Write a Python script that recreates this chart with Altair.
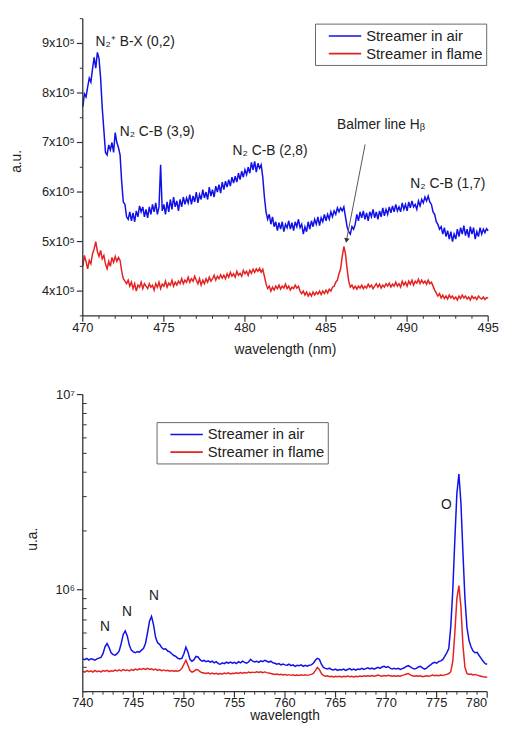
import altair as alt
import pandas as pd

BLUE = "#1010e8"
RED = "#e42222"
FONT = "Liberation Sans"
SERIES = ["Streamer in air", "Streamer in flame"]

# ---------------- top panel: 470-495 nm, step 0.1 nm, intensity in units of 1e5 ----------------
top_start, top_step, top_n = 470.0, 0.1, 251
air_top = [
    7.72, 7.98, 7.92, 8.12, 8.30, 8.22, 8.48, 8.72, 8.50, 8.82,
    8.70, 8.30, 7.70, 7.25, 6.80, 6.75, 6.95, 6.85, 7.00, 6.80,
    7.20, 7.00, 6.90, 6.75, 6.20, 5.80, 5.75, 5.50, 5.45, 5.60,
    5.42, 5.58, 5.40, 5.62, 5.50, 5.72, 5.60, 5.70, 5.50, 5.65,
    5.48, 5.70, 5.55, 5.75, 5.60, 5.78, 5.55, 5.70, 6.55, 5.62,
    5.75, 5.55, 5.80, 5.60, 5.85, 5.65, 5.90, 5.70, 5.82, 5.62,
    5.85, 5.70, 5.90, 5.75, 5.88, 5.78, 5.95, 5.75, 5.92, 5.80,
    6.00, 5.78, 5.95, 5.85, 6.05, 5.88, 6.00, 5.85, 6.10, 5.92,
    6.05, 5.90, 6.12, 6.00, 6.15, 5.98, 6.20, 6.05, 6.22, 6.10,
    6.25, 6.12, 6.30, 6.18, 6.32, 6.20, 6.38, 6.25, 6.42, 6.30,
    6.45, 6.35, 6.50, 6.38, 6.60, 6.45, 6.62, 6.40, 6.58, 6.48,
    6.55, 6.30, 5.90, 5.60, 5.45, 5.55, 5.35, 5.50, 5.30, 5.40,
    5.22, 5.38, 5.25, 5.40, 5.20, 5.35, 5.28, 5.42, 5.25, 5.38,
    5.22, 5.40, 5.30, 5.45, 5.28, 5.35, 5.15, 5.30, 5.20, 5.40,
    5.25, 5.42, 5.30, 5.45, 5.35, 5.50, 5.32, 5.48, 5.40, 5.55,
    5.42, 5.55, 5.45, 5.60, 5.50, 5.62, 5.55, 5.68, 5.60, 5.68,
    5.62, 5.70, 5.50, 5.30, 5.20, 5.15, 5.30, 5.25, 5.35, 5.55,
    5.42, 5.60, 5.48, 5.62, 5.45, 5.58, 5.42, 5.60, 5.50, 5.65,
    5.48, 5.60, 5.45, 5.62, 5.50, 5.68, 5.52, 5.65, 5.55, 5.70,
    5.58, 5.72, 5.60, 5.75, 5.62, 5.70, 5.60, 5.78, 5.65, 5.75,
    5.62, 5.80, 5.68, 5.82, 5.70, 5.75, 5.65, 5.82, 5.72, 5.85,
    5.78, 5.90, 5.82, 5.92, 5.80, 5.75, 5.60, 5.55, 5.40, 5.35,
    5.25, 5.30, 5.15, 5.28, 5.10, 5.22, 5.05, 5.20, 5.00, 5.15,
    5.05, 5.25, 5.10, 5.28, 5.15, 5.32, 5.12, 5.25, 5.08, 5.30,
    5.15, 5.28, 5.05, 5.20, 5.10, 5.28, 5.15, 5.25, 5.18, 5.26,
    5.22,
]
flame_top = [
    4.50, 4.72, 4.60, 4.45, 4.62, 4.55, 4.75, 4.85, 5.00, 4.80,
    4.70, 4.82, 4.65, 4.72, 4.55, 4.45, 4.60, 4.50, 4.68, 4.58,
    4.70, 4.60, 4.68, 4.62, 4.40, 4.25, 4.20, 4.15, 4.22, 4.10,
    4.18, 4.05, 4.15, 4.00, 4.12, 4.08, 4.18, 4.05, 4.15, 4.10,
    4.05, 4.15, 4.08, 4.12, 4.02, 4.15, 4.08, 4.18, 4.05, 4.14,
    4.10, 4.20, 4.08, 4.16, 4.12, 4.22, 4.10, 4.18, 4.12, 4.20,
    4.15, 4.25, 4.15, 4.22, 4.18, 4.28, 4.18, 4.25, 4.20, 4.30,
    4.22, 4.15, 4.25, 4.12, 4.22, 4.15, 4.25, 4.18, 4.28, 4.20,
    4.25, 4.32, 4.22, 4.30, 4.25, 4.33, 4.26, 4.32, 4.25, 4.35,
    4.28, 4.38, 4.30, 4.35, 4.28, 4.40, 4.32, 4.36, 4.30, 4.42,
    4.35, 4.40, 4.32, 4.42, 4.36, 4.44, 4.38, 4.45, 4.40, 4.46,
    4.38, 4.44, 4.30, 4.15, 4.05, 4.10, 4.00, 4.08, 4.02, 4.10,
    4.05, 4.12, 4.04, 4.10, 4.06, 4.14, 4.05, 4.10, 4.02, 4.08,
    4.05, 4.12, 4.06, 4.10, 4.00, 3.95, 4.00, 3.92, 3.98, 3.90,
    3.96, 3.90, 3.98, 3.92, 3.98, 3.94, 4.00, 3.93, 4.00, 3.95,
    4.02, 3.96, 4.04, 4.00, 4.08, 4.10, 4.18, 4.22, 4.35, 4.45,
    4.70, 4.90, 4.75, 4.45, 4.20, 4.08, 4.12, 4.05, 4.10, 4.04,
    4.10, 4.06, 4.12, 4.05, 4.10, 4.06, 4.14, 4.08, 4.12, 4.05,
    4.10, 4.15, 4.08, 4.14, 4.06, 4.12, 4.08, 4.15, 4.10, 4.16,
    4.08, 4.14, 4.10, 4.18, 4.10, 4.15, 4.08, 4.20, 4.12, 4.18,
    4.10, 4.20, 4.14, 4.22, 4.12, 4.20, 4.16, 4.24, 4.15, 4.22,
    4.16, 4.20, 4.14, 4.22, 4.15, 4.18, 4.10, 4.02, 3.96, 3.90,
    3.95, 3.86, 3.92, 3.85, 3.90, 3.84, 3.92, 3.86, 3.90, 3.84,
    3.88, 3.82, 3.90, 3.85, 3.92, 3.86, 3.90, 3.84, 3.88, 3.82,
    3.90, 3.85, 3.88, 3.83, 3.90, 3.86, 3.84, 3.88, 3.83, 3.87,
    3.86,
]

# ---------------- bottom panel: 740-780 nm, step 0.2 nm, intensity in units of 1e5 ----------------
bot_start, bot_step, bot_n = 740.0, 0.2, 201
air_bot = [
    4.42, 4.38, 4.45, 4.36, 4.43,  4.40, 4.35, 4.42, 4.46, 4.50,
    4.70, 5.10, 5.30, 5.05, 4.75,  4.65, 4.62, 4.70, 4.85, 5.30,
    5.90, 6.15, 5.80, 5.20, 4.90,  4.80, 4.75, 4.82, 4.78, 4.90,
    5.00, 5.30, 6.00, 6.90, 7.30,  6.60, 5.70, 5.35, 5.25, 5.05,
    4.95, 4.98, 4.85, 4.80, 4.70,  4.60, 4.55, 4.45, 4.42, 4.45,
    4.70, 5.08, 4.80, 4.40, 4.30,  4.38, 4.55, 4.52, 4.38, 4.30,
    4.34, 4.28, 4.32, 4.25, 4.30,  4.22, 4.28, 4.18, 4.15, 4.22,
    4.18, 4.25, 4.20, 4.26, 4.20,  4.24, 4.18, 4.28, 4.22, 4.30,
    4.24, 4.20, 4.26, 4.40, 4.30,  4.26, 4.30, 4.24, 4.32, 4.28,
    4.35, 4.30, 4.25, 4.30, 4.22,  4.20, 4.15, 4.18, 4.12, 4.16,
    4.12, 4.10, 4.15, 4.08, 4.12,  4.05, 4.10, 4.08, 4.12, 4.05,
    4.10, 4.06, 4.10, 4.12, 4.20,  4.35, 4.45, 4.40, 4.15, 4.00,
    3.95, 3.92, 3.96, 3.90, 3.88,  3.92, 3.86, 3.90, 3.88, 3.92,
    3.86, 3.90, 3.94, 3.88, 3.92,  3.87, 3.92, 3.90, 3.95, 3.90,
    3.94, 3.98, 3.93, 3.97, 3.92,  3.96, 4.00, 3.95, 4.02, 4.05,
    4.00, 4.04, 3.96, 3.92, 3.96,  3.92, 3.95, 3.90, 3.94, 3.98,
    4.05, 4.08, 4.02, 3.96, 3.92,  3.95, 4.02, 4.05, 3.98, 3.92,
    3.96, 4.05, 4.12, 4.20, 4.24,  4.20, 4.28, 4.32, 4.38, 4.55,
    4.75, 5.00, 6.50, 10.0, 18.0,  31.0, 39.2, 28.0, 15.5, 9.00,
    6.40, 5.50, 5.10, 4.85, 4.75,  4.78, 4.60, 4.45, 4.30, 4.18,
    4.15,
]
flame_bot = [
    3.82, 3.78, 3.85, 3.80, 3.84,  3.78, 3.86, 3.80, 3.83, 3.79,
    3.85, 3.82, 3.86, 3.80, 3.84,  3.82, 3.87, 3.83, 3.88, 3.84,
    3.90, 3.86, 3.88, 3.84, 3.90,  3.86, 3.92, 3.88, 3.93, 3.90,
    3.94, 3.90, 3.95, 3.90, 3.93,  3.88, 3.92, 3.86, 3.90, 3.85,
    3.88, 3.84, 3.86, 3.82, 3.85,  3.82, 3.84, 3.82, 3.86, 3.95,
    4.15, 4.35, 4.10, 3.85, 3.78,  3.82, 3.90, 3.88, 3.80, 3.75,
    3.74, 3.72, 3.75, 3.70, 3.74,  3.70, 3.73, 3.69, 3.72, 3.70,
    3.74, 3.71, 3.75, 3.70, 3.73,  3.72, 3.75, 3.72, 3.76, 3.73,
    3.76, 3.74, 3.78, 3.75, 3.78,  3.76, 3.80, 3.77, 3.80, 3.76,
    3.79, 3.76, 3.74, 3.72, 3.70,  3.68, 3.70, 3.67, 3.69, 3.66,
    3.68, 3.65, 3.67, 3.64, 3.66,  3.63, 3.65, 3.63, 3.66, 3.64,
    3.66, 3.64, 3.66, 3.68, 3.72,  3.85, 4.00, 3.90, 3.72, 3.64,
    3.60, 3.62, 3.58, 3.60, 3.57,  3.60, 3.58, 3.60, 3.57, 3.60,
    3.58, 3.61, 3.58, 3.60, 3.57,  3.60, 3.58, 3.61, 3.59, 3.62,
    3.60, 3.62, 3.60, 3.63, 3.60,  3.62, 3.65, 3.62, 3.60, 3.63,
    3.61, 3.64, 3.62, 3.60, 3.62,  3.60, 3.62, 3.60, 3.64, 3.66,
    3.70, 3.72, 3.66, 3.62, 3.60,  3.62, 3.60, 3.62, 3.58, 3.60,
    3.62, 3.60, 3.62, 3.65, 3.62,  3.64, 3.62, 3.65, 3.63, 3.66,
    3.68, 3.72, 3.80, 4.30, 6.00,  9.00, 10.5, 8.20, 5.20, 4.00,
    3.72, 3.68, 3.70, 3.66, 3.68,  3.65, 3.62, 3.60, 3.58, 3.57,
    3.56,
]

# ---------------- axis ticks and tick labels ----------------
top_x_major = [470, 475, 480, 485, 490, 495]
top_x_labels = ["470", "475", "480", "485", "490", "495"]
top_x_minor = [v for v in range(470, 496) if v % 5 != 0]
top_y_major = [400000, 500000, 600000, 700000, 800000, 900000]
top_y_labels = ["4x10⁵", "5x10⁵", "6x10⁵", "7x10⁵", "8x10⁵", "9x10⁵"]
top_y_minor = [350000, 450000, 550000, 650000, 750000, 850000, 950000]
bot_x_major = [740, 745, 750, 755, 760, 765, 770, 775]
bot_x_labels = ["740", "745", "750", "755", "760", "765", "770", "775"]
bot_x_last, bot_x_last_label = 780, "780"
bot_x_minor = [v for v in range(740, 781) if v % 5 != 0]
bot_y_major = [1000000, 10000000]
bot_y_labels = ["10⁶", "10⁷"]
bot_y_minor = [300000, 400000, 500000, 600000, 700000, 800000, 900000,
               2000000, 3000000, 4000000, 5000000, 6000000, 7000000, 8000000, 9000000]

# ---------------- annotations ----------------
top_labels = ["N₂⁺ B-X (0,2)", "N₂ C-B (3,9)", "N₂ C-B (2,8)", "Balmer line Hᵦ", "N₂ C-B (1,7)"]
top_label_wl = [470.79, 472.28, 479.24, 485.68, 490.20]
top_label_val = [9.02, 7.22, 6.82, 7.36, 6.16]
arrow_wl = [487.41, 486.26]
arrow_val = [6.96, 5.02]

bot_labels = ["N", "N", "N", "O"]
bot_label_wl = [742.2, 744.37, 747.05, 775.97]
bot_label_val = [6.47, 7.69, 9.26, 27.0]

UNIT = 1e5
TOP_W, TOP_H = 412, 302
BOT_W, BOT_H = 411, 302
AX = "#333"
TXT = "#222"
assert len(air_top) == top_n and len(flame_top) == top_n
assert len(air_bot) == bot_n and len(flame_bot) == bot_n


def spectrum_frame(start, step, n, a, f):
    wl = [round(start + step * i, 2) for i in range(n)]
    return pd.DataFrame({
        "wl": wl + wl,
        "val": [v * UNIT for v in a] + [v * UNIT for v in f],
        "series": [SERIES[0]] * n + [SERIES[1]] * n,
    })


top_df = spectrum_frame(top_start, top_step, top_n, air_top, flame_top)
bot_df = spectrum_frame(bot_start, bot_step, bot_n, air_bot, flame_bot)

top_ann = pd.DataFrame({"wl": top_label_wl, "val": [v * UNIT for v in top_label_val], "label": top_labels})
bot_ann = pd.DataFrame({"wl": bot_label_wl, "val": [v * UNIT for v in bot_label_val], "label": bot_labels})
arrow_df = pd.DataFrame({"wl": arrow_wl, "val": [v * UNIT for v in arrow_val]})
arrow_head = arrow_df.iloc[[1]]

color_scale = alt.Scale(domain=SERIES, range=[BLUE, RED])
NOAX = dict(axis=None)


def legend(x, y):
    return alt.Legend(
        orient="none", legendX=x, legendY=y, title=None,
        symbolType="M-2,0H2", symbolSize=272, symbolStrokeWidth=1.6,
        symbolOffset=18, labelOffset=12,
        labelFont=FONT, labelFontSize=15, labelColor=TXT,
        strokeColor="#666", padding=3, rowPadding=0, fillColor="white",
    )


# ---- hand-built axes (domain line, ticks through the scales, tick labels, title) ----
def x_ticks(values, h, length, width):
    return alt.Chart(pd.DataFrame({"t": values})).mark_rule(color=AX, strokeWidth=width).encode(
        x=alt.X("t:Q", **NOAX), y=alt.value(h), y2=alt.value(h + length))


def y_ticks(values, x0, x1, width):
    return alt.Chart(pd.DataFrame({"t": values})).mark_rule(color=AX, strokeWidth=width).encode(
        y=alt.Y("t:Q", **NOAX), x=alt.value(x0), x2=alt.value(x1))


def x_labels(values, labels, h, align="center"):
    return alt.Chart(pd.DataFrame({"wl": values, "lab": labels})).mark_text(
        font=FONT, fontSize=13, color=TXT, align=align, baseline="middle").encode(
        x=alt.X("wl:Q", **NOAX), y=alt.value(h + 12), text="lab:N")


def y_labels(values, labels):
    return alt.Chart(pd.DataFrame({"val": values, "lab": labels})).mark_text(
        font=FONT, fontSize=13, color=TXT, align="right", baseline="middle").encode(
        y=alt.Y("val:Q", **NOAX), x=alt.value(-8), text="lab:N")


def domains(w, h):
    xdom = alt.Chart(pd.DataFrame({"d": [0]})).mark_rule(color=AX, strokeWidth=1.3).encode(
        x=alt.value(0), x2=alt.value(w), y=alt.value(h))
    ydom = alt.Chart(pd.DataFrame({"d": [0]})).mark_rule(color=AX, strokeWidth=1.3).encode(
        x=alt.value(0), y=alt.value(0), y2=alt.value(h))
    return [xdom, ydom]


def title(text, x, y, angle=0):
    return alt.Chart(pd.DataFrame({"ttl": [text]})).mark_text(
        font=FONT, fontSize=14, color=TXT, align="center", baseline="middle", angle=angle).encode(
        x=alt.value(x), y=alt.value(y), text="ttl:N")


# ---- top panel ----
top_lines = alt.Chart(top_df).mark_line(strokeWidth=1.5).encode(
    x=alt.X("wl:Q", scale=alt.Scale(domain=[470, 495], nice=False, zero=False), **NOAX),
    y=alt.Y("val:Q", scale=alt.Scale(domain=[3.5e5, 9.5e5], nice=False, zero=False), **NOAX),
    color=alt.Color("series:N", scale=color_scale, legend=legend(236, 5)),
)
top_arrow = alt.Chart(arrow_df).mark_line(color="#555", strokeWidth=1).encode(
    x=alt.X("wl:Q", **NOAX), y=alt.Y("val:Q", **NOAX))
top_head = alt.Chart(arrow_head).mark_point(shape="triangle-down", filled=True, size=30,
                                            angle=11, color="#333", opacity=1).encode(
    x=alt.X("wl:Q", **NOAX), y=alt.Y("val:Q", **NOAX))
top_text = alt.Chart(top_ann).mark_text(align="left", baseline="middle", font=FONT,
                                        fontSize=14, color=TXT).encode(
    x=alt.X("wl:Q", **NOAX), y=alt.Y("val:Q", **NOAX), text="label:N")
top = alt.layer(
    top_lines, top_arrow, top_head, top_text,
    *domains(TOP_W, TOP_H),
    x_ticks(top_x_major, TOP_H, 6, 1.2), x_ticks(top_x_minor, TOP_H, 3, 1),
    y_ticks(top_y_major, 0, -6, 1.2), y_ticks(top_y_minor, 0, -3, 1),
    x_labels(top_x_major, top_x_labels, TOP_H), y_labels(top_y_major, top_y_labels),
    title("wavelength (nm)", TOP_W / 2, TOP_H + 35), title("a.u.", -67, 145, 270),
).properties(width=TOP_W, height=TOP_H)

# ---- bottom panel ----
bot_lines = alt.Chart(bot_df).mark_line(strokeWidth=1.5).encode(
    x=alt.X("wl:Q", scale=alt.Scale(domain=[740, 780], nice=False, zero=False), **NOAX),
    y=alt.Y("val:Q", scale=alt.Scale(type="log", domain=[3e5, 1e7], nice=False), **NOAX),
    color=alt.Color("series:N", scale=color_scale, legend=legend(75, 28)),
)
bot_text = alt.Chart(bot_ann).mark_text(align="center", baseline="middle", font=FONT,
                                        fontSize=14, color=TXT).encode(
    x=alt.X("wl:Q", **NOAX), y=alt.Y("val:Q", **NOAX), text="label:N")
bottom = alt.layer(
    bot_lines, bot_text,
    *domains(BOT_W, BOT_H),
    x_ticks(bot_x_major + [bot_x_last], BOT_H, 6, 1.2), x_ticks(bot_x_minor, BOT_H, 3, 1),
    y_ticks(bot_y_major, 0, -6, 1.2), y_ticks(bot_y_minor, 0, 4, 1),
    x_labels(bot_x_major, bot_x_labels, BOT_H),
    x_labels([bot_x_last], [bot_x_last_label], BOT_H, align="right"),
    y_labels(bot_y_major, bot_y_labels),
    title("wavelength", BOT_W / 2, BOT_H + 25), title("u.a.", -51, 147, 270),
).properties(width=BOT_W, height=BOT_H)

chart = (
    alt.vconcat(top, bottom, spacing=80)
    .resolve_scale(color="independent")
    .resolve_legend(color="independent")
    .properties(padding={"left": 2, "top": 4, "right": 0, "bottom": 0}, bounds="flush")
    .configure_view(stroke=None)
)

chart.save("out.html", embed_options={"renderer": "svg", "actions": False})
